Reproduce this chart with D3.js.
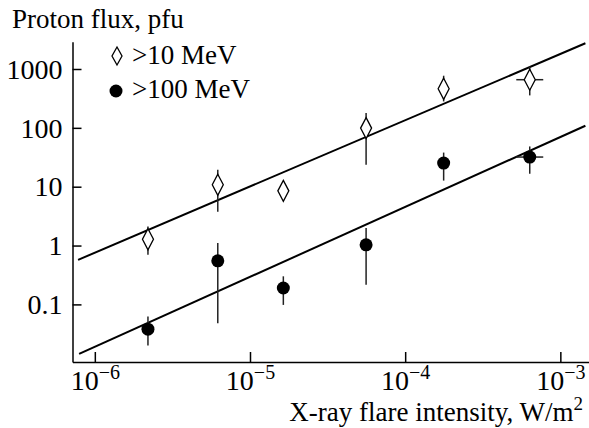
<!DOCTYPE html>
<html>
<head>
<meta charset="utf-8">
<script src="https://cdn.jsdelivr.net/npm/d3@7"></script>
<style>
  html, body { margin: 0; padding: 0; background: #fff; }
  svg { display: block; }
  text { font-family: "Liberation Serif", "Times New Roman", serif; fill: #000; }
</style>
</head>
<body>
<script>
// ---- data ----
const seriesLabels = [">10 MeV", ">100 MeV"];
const flareX = [2.2e-6, 6.2e-6, 1.64e-5, 5.6e-5, 1.77e-4, 6.35e-4];
const flareXLo = [null, null, null, null, null, 5.2e-4];
const flareXHi = [null, null, null, null, null, 7.76e-4];
const flux10 = [1.28, 10.8, 8.5, 99, 462, 658];
const flux10Lo = [0.7, 3.74, 8.5, 23.6, 281, 356];
const flux10Hi = [2.1, 19.4, 8.5, 178, 769, 1107];
const flux100 = [0.038, 0.55, 0.19, 1.03, 25.2, 31.9];
const flux100Lo = [0.020, 0.048, 0.098, 0.215, 12.7, 16.6];
const flux100Hi = [0.062, 1.1, 0.30, 1.98, 38, 48.3];
const fit10X = [7.8e-7, 1.45e-3];
const fit10Y = [0.571, 2735];
const fit100X = [7.92e-7, 1.45e-3];
const fit100Y = [0.0144, 108.6];
const yTickValues = [0.1, 1, 10, 100, 1000];
const yTickLabels = ["0.1", "1", "10", "100", "1000"];
const xTickValues = [1e-6, 1e-5, 1e-4, 1e-3];
const xTickExponents = ["−6", "−5", "−4", "−3"];
const yTitle = "Proton flux, pfu";
const xTitle = "X-ray flare intensity, W/m";
const xTitleSup = "2";

// ---- chart ----
const W = 589, H = 428;
const FS = 28;
const svg = d3.select("body").append("svg").attr("width", W).attr("height", H);

const x = d3.scaleLog().domain([7.18e-7, 1.53e-3]).range([72.5, 589]);
const y = d3.scaleLog().domain([0.0105, 2910]).range([362, 41.7]);

// y axis
const yAxis = svg.append("g").attr("transform", `translate(${x.range()[0]},0)`)
  .call(d3.axisLeft(y).tickValues(yTickValues)
    .tickFormat((d, i) => yTickLabels[i]).tickSize(-9).tickSizeOuter(0).tickPadding(10));
yAxis.select(".domain").attr("stroke", "#000").attr("stroke-width", 1.5);
yAxis.selectAll(".tick line").attr("stroke", "#000").attr("stroke-width", 1.5);
yAxis.selectAll(".tick text").attr("font-size", FS).attr("font-family", "Liberation Serif").attr("dy", "0.33em");

// x axis
const xAxis = svg.append("g").attr("transform", `translate(0,${y.range()[0]})`)
  .call(d3.axisBottom(x).tickValues(xTickValues).tickFormat("").tickSize(-10).tickSizeOuter(0));
xAxis.select(".domain").attr("stroke", "#000").attr("stroke-width", 1.5);
xAxis.selectAll(".tick line").attr("stroke", "#000").attr("stroke-width", 1.5);
xAxis.selectAll(".tick").each(function(d, i) {
  const t = d3.select(this).append("text")
    .attr("y", 28).attr("text-anchor", "middle")
    .attr("font-size", FS).attr("font-family", "Liberation Serif");
  t.append("tspan").text("10");
  t.append("tspan").attr("dy", -11).attr("font-size", 20).text(xTickExponents[i]);
});

// titles
svg.append("text").attr("x", 12).attr("y", 28).attr("font-size", 27).text(yTitle);
const xt = svg.append("text").attr("x", 583).attr("y", 421).attr("text-anchor", "end").attr("font-size", 27);
xt.append("tspan").text(xTitle);
xt.append("tspan").attr("dy", -11).attr("font-size", 19).text(xTitleSup);

// fit lines
const line = d3.line().x(d => x(d[0])).y(d => y(d[1]));
svg.append("path").datum(d3.zip(fit10X, fit10Y)).attr("d", line)
  .attr("fill", "none").attr("stroke", "#000").attr("stroke-width", 2);
svg.append("path").datum(d3.zip(fit100X, fit100Y)).attr("d", line)
  .attr("fill", "none").attr("stroke", "#000").attr("stroke-width", 2);

// error bars
function errorBars(vals, lo, hi) {
  const g = svg.append("g").attr("stroke", "#222").attr("stroke-width", 1.5);
  flareX.forEach((xv, i) => {
    if (hi[i] !== lo[i]) {
      g.append("line").attr("x1", x(xv)).attr("x2", x(xv)).attr("y1", y(hi[i])).attr("y2", y(lo[i]));
    }
    if (flareXLo[i] !== null) {
      g.append("line").attr("x1", x(flareXLo[i])).attr("x2", x(flareXHi[i])).attr("y1", y(vals[i])).attr("y2", y(vals[i]));
    }
  });
}
errorBars(flux10, flux10Lo, flux10Hi);
errorBars(flux100, flux100Lo, flux100Hi);

// markers
const diamond = (cx, cy, hw, hh) => `M${cx},${cy - hh}L${cx + hw},${cy}L${cx},${cy + hh}L${cx - hw},${cy}Z`;
svg.append("g").selectAll("path").data(flareX).join("path")
  .attr("d", (d, i) => diamond(x(d), y(flux10[i]), 5.5, 10.5))
  .attr("fill", "#fff").attr("stroke", "#000").attr("stroke-width", 1.3);
svg.append("g").selectAll("circle").data(flareX).join("circle")
  .attr("cx", d => x(d)).attr("cy", (d, i) => y(flux100[i])).attr("r", 6.5).attr("fill", "#000");

// legend
svg.append("path").attr("d", diamond(117, 56, 5, 9))
  .attr("fill", "#fff").attr("stroke", "#000").attr("stroke-width", 1.3);
svg.append("text").attr("x", 132).attr("y", 64).attr("font-size", 27).text(seriesLabels[0]);
svg.append("circle").attr("cx", 116).attr("cy", 91).attr("r", 6.5).attr("fill", "#000");
svg.append("text").attr("x", 132).attr("y", 98).attr("font-size", 27).text(seriesLabels[1]);
</script>
</body>
</html>
